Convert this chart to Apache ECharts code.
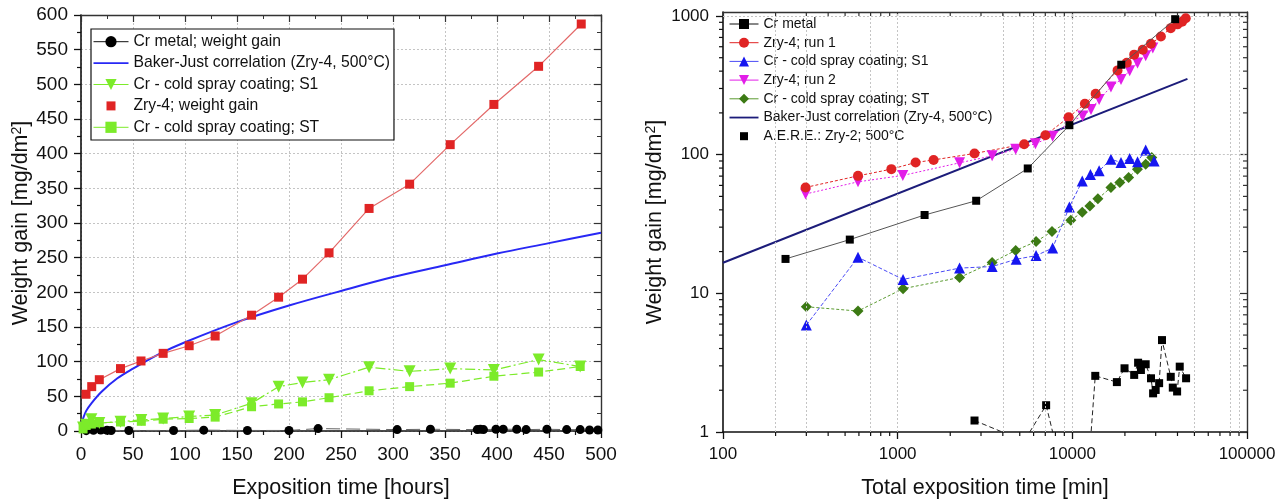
<!DOCTYPE html>
<html><head><meta charset="utf-8">
<script src="https://cdn.jsdelivr.net/npm/echarts@6/dist/echarts.min.js"></script>
<style>html,body{margin:0;padding:0;background:#fff}#c{width:1287px;height:504px}</style>
</head><body><div id="c"></div>
<script>
// ---------- Left panel: [hours, mg/dm2] ----------
const crMetalL = [[5,0.5],[12,1],[19,1.5],[25,1],[29,0.8],[46,0.8],[89,0.8],[118,1.2],[160,0.8],[200,0.8],[228,3.5],[304,2],[336,2.5],[381,2],[384,2.5],[387,2],[399,2.5],[406,2.5],[419,2.5],[428,2],[448,2.5],[467,2],[480,2],[489,1.5],[497,1.5]];
const bakerJustL = [[0,0],[1,13],[2,18],[5,29],[10,40],[20,57],[35,76],[50,90],[75,111],[100,128],[150,157],[200,181],[250,202],[300,222],[350,239],[400,256],[450,271],[500,286]];
const s1L = [[2,5],[5,9],[10,17],[17.6,11.5],[38,13.5],[58,16],[79,18],[104,21],[129,23],[164,40],[190,64],[213,70],[238.5,74],[277,92],[316,86],[355,90],[397,88],[440,103],[480,93]];
const zry4L = [[4.8,53],[10.3,64],[17.6,74],[38,90],[57.7,101],[79,112],[104,123],[129,137],[164,167],[190,193],[213,219],[238.5,257],[277,321],[316,356],[355,413],[397,471],[440,526],[481,587]];
const stL = [[2,3],[5,8],[10,10],[17.6,12],[38,13],[58,14],[79,17],[104,18],[129,20],[164,35],[190,39],[213,42],[238.5,48],[277,58],[316,64],[355,69],[397,79],[440,85],[480,93]];

// ---------- Right panel: [min, mg/dm2] ----------
const crMetalR = [[228,17.7],[532,24.4],[1426,36.7],[2815,46.5],[5556,79.5],[9620,163],[19060,445],[38800,948]];
const zry4Run1R = [[297,58],[593,70.3],[920,78.6],[1267,87.8],[1606,91.6],[2754,102],[5300,119],[7014,138],[9526,186],[11800,233],[13600,275],[18150,405],[20500,460],[22600,526],[25300,571],[28180,630],[32140,711],[36600,817],[40000,870],[42500,910],[44600,964]];
const s1R = [[300,5.9],[593,18.2],[1074,12.6],[2261,15.2],[3475,15.6],[4770,17.6],[6200,18.7],[7710,21.2],[9620,42],[11400,64.5],[12700,72],[14240,76.4],[16630,92.7],[19000,87.8],[21300,93.9],[23620,88.9],[26300,108],[29400,90]];
const zry4Run2R = [[297,52],[593,63.7],[1070,70.8],[2261,87.3],[3475,98],[4740,109.5],[6150,120],[7710,135.5],[9500,170],[11460,190],[12790,212],[14240,250],[16630,308],[19000,348],[21300,403],[23620,458],[26300,517],[28900,587]];
const stR = [[300,8],[593,7.45],[1074,10.8],[2261,13],[3475,16.7],[4740,20.4],[6200,23.6],[7650,27.9],[9800,33.7],[11400,38.4],[12600,42.6],[14000,48],[16630,58],[18700,63],[21000,68.5],[23600,78.6],[26300,85.3],[28500,95.3]];
const bakerJustR = [[100,16.6],[45600,352]];
const aereR = [[2754,1.21],[5300,0.86],[7080,1.56],[9000,0.45],[12300,0.5],[13530,2.54],[17990,2.29],[19900,2.88],[22600,2.58],[23800,3.16],[24700,2.8],[26300,3.08],[28200,2.44],[29000,1.9],[30000,2.01],[31400,2.25],[32600,4.6],[36600,2.5],[37600,2.09],[39800,1.96],[41200,2.96],[44800,2.44]];

// ticks / grid positions
const xMajorR = [100,1000,10000,100000];
const xMinorR = [200,300,400,500,600,700,800,900,2000,3000,4000,5000,6000,7000,8000,9000,20000,30000,40000,50000,60000,70000,80000,90000];
const yMajorR = [1,10,100,1000];
const yMinorR = [2,3,4,5,6,7,8,9,20,30,40,50,60,70,80,90,200,300,400,500,600,700,800,900];
const xGridR = [200,300,700,1000,4000,6000,7000,9000,10000,50000,80000,90000];

const FF = 'Liberation Sans, Arial, sans-serif';
const chart = echarts.init(document.getElementById('c'), null, {renderer:'canvas'});
const fmt = v => String(Math.round(v));
const nameStyle = {fontSize:21.5, color:'#111', fontFamily:FF,
  rich:{sup:{fontSize:14, color:'#111', fontFamily:FF, verticalAlign:'top'}}};

const lineIconL = 'path://M0,0M35,14M0,6.2h35v1.8h-35z';
const sqIconL = 'path://M0,0M35,14M13,2.5h9v9h-9z';
const sqIconR = 'path://M0,0M29,12.5M10.5,2.25h8v8h-8z';
const lineIconR = 'path://M0,0M29,12.5M0,5.4h29v1.8h-29z';

const C = {red:'#E02424', redLine:'#E36a6a', blueL:'#2828F5', lime:'#7CEB2A', blue:'#1616F0', mag:'#E21DE8', dgreen:'#3C7A14', navy:'#1C1C7A'};

function frameAxis(grid, pos, type, extra){
  return Object.assign({gridIndex:grid, position:pos, type:type,
    axisLine:{show:true, onZero:false, lineStyle:{color:'#333', width:1.4}},
    axisTick:{show:true, inside:true, length:7, lineStyle:{color:'#333', width:1.2}},
    axisLabel:{show:false}, splitLine:{show:false}}, extra);
}

const option = {
  animation:false,
  textStyle:{fontFamily:FF},
  grid:[
    {left:81, top:15, width:520, height:416},
    {left:723, top:12, width:524, height:422}
  ],
  legend:[
    {orient:'vertical', left:91, top:29, padding:[4.7,4,4.7,2], itemWidth:35, itemHeight:14, itemGap:5.4,
     backgroundColor:'#fff', borderColor:'#111', borderWidth:1.2, selectedMode:false,
     textStyle:{fontSize:15.7, color:'#111', fontFamily:FF, lineHeight:14},
     data:[
       {name:'Cr metal; weight gain', lineStyle:{type:'solid', color:'#111', width:1}},
       {name:'Baker-Just correlation (Zry-4, 500°C)', icon:lineIconL},
       {name:'Cr - cold spray coating; S1', lineStyle:{type:'solid', width:1}},
       {name:'Zry-4; weight gain', icon:sqIconL},
       {name:'Cr - cold spray coating; ST', lineStyle:{type:'solid', width:1}}
     ]},
    {orient:'vertical', left:727, top:16, padding:[1,3,6,2], itemWidth:29, itemHeight:12.5, itemGap:4.7,
     backgroundColor:'#fff', selectedMode:false,
     formatter: n => n.replace(/^R\|/, ''),
     textStyle:{fontSize:14, color:'#111', fontFamily:FF, lineHeight:12.5},
     data:[
       {name:'R|Cr metal', lineStyle:{type:'solid', width:1, color:'#111'}},
       {name:'R|Zry-4; run 1', lineStyle:{type:'solid', width:1}},
       {name:'R|Cr - cold spray coating; S1', lineStyle:{type:'solid', width:1}},
       {name:'R|Zry-4; run 2', lineStyle:{type:'solid', width:1}},
       {name:'R|Cr - cold spray coating; ST', lineStyle:{type:'solid', width:1}},
       {name:'R|Baker-Just correlation (Zry-4, 500°C)', icon:lineIconR},
       {name:'R|A.E.R.E.: Zry-2; 500°C', icon:sqIconR}
     ]}
  ],
  xAxis:[
    {gridIndex:0, type:'value', min:0, max:500, interval:50, position:'bottom',
     axisLine:{onZero:false, lineStyle:{color:'#111', width:1.6}},
     axisTick:{length:7, lineStyle:{color:'#111', width:1.3}},
     minorTick:{show:true, splitNumber:2, length:4, lineStyle:{color:'#111', width:1.2}},
     axisLabel:{fontSize:19, color:'#111', margin:14, fontFamily:FF},
     splitLine:{show:true, lineStyle:{type:[2,2], color:'#c4c4c4', width:1}},
     name:'Exposition time [hours]', nameLocation:'middle', nameGap:46, nameTextStyle:nameStyle},
    frameAxis(0,'top','value',{min:0, max:500, interval:50, minorTick:{show:true, splitNumber:2, length:4, lineStyle:{color:'#333'}}}),
    {gridIndex:1, type:'log', logBase:10, min:100, max:100000, position:'bottom',
     axisLine:{onZero:false, lineStyle:{color:'#111', width:1.6}},
     axisTick:{customValues:xMajorR, length:7, lineStyle:{color:'#111', width:1.3}},
     axisLabel:{customValues:xMajorR, formatter:fmt, fontSize:17, color:'#111', margin:14, fontFamily:FF},
     splitLine:{show:false},
     name:'Total exposition time [min]', nameLocation:'middle', nameGap:45, nameTextStyle:nameStyle},
    frameAxis(1,'top','log',{min:100, max:100000, logBase:10, axisTick:{show:true, inside:true, customValues:xMajorR, length:7, lineStyle:{color:'#333', width:1.2}}})
  ],
  yAxis:[
    {gridIndex:0, type:'value', min:0, max:600, interval:50, position:'left',
     axisLine:{onZero:false, lineStyle:{color:'#111', width:1.6}},
     axisTick:{length:7, lineStyle:{color:'#111', width:1.3}},
     minorTick:{show:true, splitNumber:2, length:4, lineStyle:{color:'#111', width:1.2}},
     axisLabel:{fontSize:19, color:'#111', margin:13, fontFamily:FF},
     splitLine:{show:true, lineStyle:{type:[2,2], color:'#c4c4c4', width:1}},
     name:'Weight gain [mg/dm{sup|2}]', nameLocation:'middle', nameGap:49, nameTextStyle:nameStyle},
    frameAxis(0,'right','value',{min:0, max:600, interval:50, minorTick:{show:true, splitNumber:2, length:4, lineStyle:{color:'#333'}}}),
    {gridIndex:1, type:'log', logBase:10, min:1, max:1068, position:'left',
     axisLine:{onZero:false, lineStyle:{color:'#111', width:1.6}},
     axisTick:{customValues:yMajorR, length:7, lineStyle:{color:'#111', width:1.3}},
     axisLabel:{customValues:yMajorR, formatter:fmt, fontSize:17, color:'#111', margin:14, fontFamily:FF},
     splitLine:{show:false},
     name:'Weight gain [mg/dm{sup|2}]', nameLocation:'middle', nameGap:57, nameTextStyle:nameStyle},
    frameAxis(1,'right','log',{min:1, max:1068, logBase:10, axisTick:{show:true, inside:true, customValues:yMajorR, length:7, lineStyle:{color:'#333', width:1.2}}})
  ],
  series:[
    // left panel
    {name:'Baker-Just correlation (Zry-4, 500°C)', type:'line', xAxisIndex:0, yAxisIndex:0, data:bakerJustL,
     smooth:0.35, symbol:'none', color:C.blueL, lineStyle:{color:C.blueL, width:2}, z:3},
    {name:'Cr metal; weight gain', type:'line', xAxisIndex:0, yAxisIndex:0, data:crMetalL,
     symbol:'circle', symbolSize:9, color:'#000', itemStyle:{color:'#000'}, lineStyle:{color:'#666', width:1, type:[14,6]}, z:4},
    {name:'Cr - cold spray coating; ST', type:'line', xAxisIndex:0, yAxisIndex:0, data:stL,
     symbol:'rect', symbolSize:9, color:C.lime, lineStyle:{color:C.lime, width:1.2, type:[8,4]}, z:4},
    {name:'Cr - cold spray coating; S1', type:'line', xAxisIndex:0, yAxisIndex:0, data:s1L,
     symbol:'triangle', symbolRotate:180, symbolSize:12, color:C.lime, lineStyle:{color:C.lime, width:1.2, type:[10,3,2,3]}, z:4},
    {name:'Zry-4; weight gain', type:'line', xAxisIndex:0, yAxisIndex:0, data:zry4L,
     symbol:'rect', symbolSize:9, color:C.red, lineStyle:{color:C.redLine, width:1.2}, z:5},
    // right panel
    {name:'R|Baker-Just correlation (Zry-4, 500°C)', type:'line', xAxisIndex:2, yAxisIndex:2, data:bakerJustR,
     symbol:'none', color:C.navy, lineStyle:{color:C.navy, width:2}, z:3,
     markLine:{silent:true, symbol:['none','none'], label:{show:false}, animation:false,
       lineStyle:{type:[2,2], color:'#c4c4c4', width:1},
       data: xGridR.map(v => ({xAxis:v})).concat([{yAxis:1000}, [{coord:[4000,100]},{coord:[100000,100]}]])}},
    {name:'R|A.E.R.E.: Zry-2; 500°C', type:'line', xAxisIndex:2, yAxisIndex:2, data:aereR,
     symbol:'rect', symbolSize:8, color:'#000', lineStyle:{color:'#222', width:1, type:[5,3]}, z:4},
    {name:'R|Cr metal', type:'line', xAxisIndex:2, yAxisIndex:2, data:crMetalR,
     symbol:'rect', symbolSize:8, color:'#000', lineStyle:{color:'#555', width:1}, z:6},
    {name:'R|Cr - cold spray coating; ST', type:'line', xAxisIndex:2, yAxisIndex:2, data:stR,
     symbol:'diamond', symbolSize:11, color:C.dgreen, lineStyle:{color:'#5a9a30', width:1, type:[3,2]}, z:4},
    {name:'R|Cr - cold spray coating; S1', type:'line', xAxisIndex:2, yAxisIndex:2, data:s1R,
     symbol:'triangle', symbolSize:11, color:C.blue, lineStyle:{color:'#4a4af5', width:1, type:[4,2]}, z:4},
    {name:'R|Zry-4; run 2', type:'line', xAxisIndex:2, yAxisIndex:2, data:zry4Run2R,
     symbol:'triangle', symbolRotate:180, symbolSize:11, color:C.mag, lineStyle:{color:C.mag, width:1, type:[2,2]}, z:5},
    {name:'R|Zry-4; run 1', type:'line', xAxisIndex:2, yAxisIndex:2, data:zry4Run1R,
     symbol:'circle', symbolSize:10, color:C.red, lineStyle:{color:C.red, width:1, type:[3,2]}, z:5}
  ]
};
chart.setOption(option);

// Log-axis minor ticks (2..9 per decade), positioned through the axes' own scales
(function addMinorTicks(){
  const px = v => chart.convertToPixel({xAxisIndex:2}, v);
  const py = v => chart.convertToPixel({yAxisIndex:2}, v);
  const xl = px(100), xr = px(100000), yb = py(1), yt = py(1068);
  const g = [];
  const L = (x1,y1,x2,y2,c) => g.push({type:'line', silent:true, z:20,
    shape:{x1:x1,y1:y1,x2:x2,y2:y2}, style:{stroke:c, lineWidth:1.2}});
  xMinorR.forEach(v => { const x = px(v); L(x,yb,x,yb+4,'#111'); L(x,yt,x,yt+4,'#333'); });
  yMinorR.forEach(v => { const y = py(v); L(xl-4,y,xl,y,'#111'); L(xr-4,y,xr,y,'#333'); });
  chart.setOption({graphic:{elements:g}});
})();
</script>
</body></html>
